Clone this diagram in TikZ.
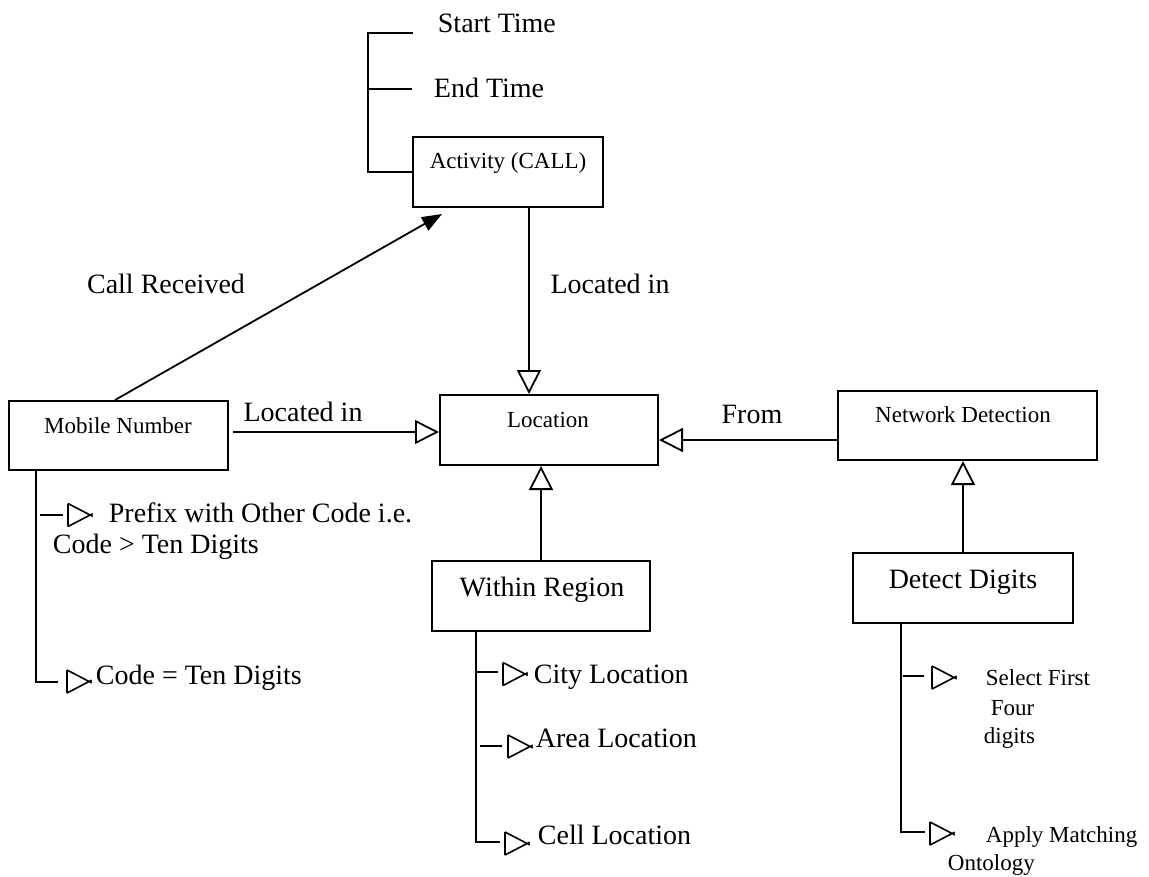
\documentclass[tikz,border=0pt]{standalone}
\usepackage{fontspec}
\setmainfont{Liberation Serif}
\usetikzlibrary{arrows.meta}
\newcommand\fbig{\fontsize{28}{32}\selectfont}
\newcommand\fsmall{\fontsize{23}{26}\selectfont}
\begin{document}
\begin{tikzpicture}[x=1pt,y=-1pt,line width=1.8pt,
  box/.style={draw,line width=2pt,rectangle,inner sep=0pt},
  bigtext/.style={inner sep=0pt,font=\fbig},
  smalltext/.style={inner sep=0pt,font=\fsmall},
  oarrow/.style={-{Triangle[open,length=24pt,width=24pt,line width=1.8pt]}},
  farrow/.style={-{Triangle[length=20pt,width=15pt]}},
  ltri/.pic={\draw[line width=1.6pt] (0,-11.5)--(0,11.5) (0,-11.5)--(24.7,1.35) (0,11.5)--(24.7,-1.35);}
]
\useasboundingbox (0,0) rectangle (1149,876);

% boxes
\node[box,minimum width=190,minimum height=70] (act) at (508,172) {};
\node[smalltext] (actt) at (508,163) {Activity (CALL)};
\node[box,minimum width=218,minimum height=70] (loc) at (549,430) {};
\node[smalltext] (loct) at (548,420) {Location};
\node[box,minimum width=219,minimum height=69] (mob) at (118.5,435.5) {};
\node[smalltext] (mobt) at (118,426) {Mobile Number};
\node[box,minimum width=259,minimum height=69] (net) at (967.5,425.5) {};
\node[smalltext] (nett) at (963,415) {Network Detection};
\node[box,minimum width=218,minimum height=70] (wr) at (541,596) {};
\node[bigtext] (wrt) at (542,590) {Within Region};
\node[box,minimum width=220,minimum height=70] (dd) at (963,588) {};
\node[bigtext] (ddt) at (963,582) {Detect Digits};

% top bracket
\node[bigtext,anchor=west] (st) at (437,23) {Start Time};
\node[bigtext,anchor=west] (et) at (433,88) {End Time};
\coordinate (bktop) at (368,33);
\coordinate (bkst) at (413,33);
\coordinate (bkmid) at (368,89);
\coordinate (bket) at (412,89);
\draw (act.west) -| (bktop) -- (bkst);
\draw (bkmid) -- (bket);

% main connectors
\draw[oarrow] ([xshift=21pt]act.south) -- ([xshift=-20pt]loc.north);
\node[bigtext] (lbl1) at (610,284) {Located in};
\draw[oarrow] (wr.north) -- ([xshift=-8pt]loc.south);
\draw[oarrow] (dd.north) -- ([xshift=-4.5pt]net.south);
\draw[oarrow] ([xshift=4pt,yshift=3.5pt]mob.east) -- ([yshift=-2pt]loc.west);
\node[bigtext] (lbl2) at (303,412) {Located in};
\draw[oarrow] ([yshift=-14.5pt]net.west) -- ([yshift=-10pt]loc.east);
\node[bigtext] (lbl3) at (752,414) {From};
\draw[farrow] ([xshift=-3.5pt]mob.north) -- ([xshift=-66pt,yshift=-6pt]act.south);
\node[bigtext] (lbl4) at (166,284) {Call Received};

% mobile number branch
\coordinate (mb1) at (36,682);
\coordinate (mb1e) at (58,682);
\draw ([xshift=-82.5pt]mob.south) -- (mb1) -- (mb1e);
\draw (40,515) -- (63,515);
\pic at (68,515) {ltri};
\node[bigtext,anchor=west] (pre1) at (108,513) {Prefix with Other Code i.e.};
\node[bigtext,anchor=west] (pre2) at (52,547) {Code > Ten Digits};
\pic at (67,681.5) {ltri};
\node[bigtext,anchor=west] (ceq) at (95,678) {Code = Ten Digits};

% within region branch
\coordinate (wb1) at (476,842);
\coordinate (wb1e) at (500,842);
\draw ([xshift=-65pt]wr.south) -- (wb1) -- (wb1e);
\draw (475,672) -- (498,672);
\pic at (503,674) {ltri};
\node[bigtext,anchor=west] (city) at (533,677) {City Location};
\draw (480,746) -- (502,746);
\pic at (508,746.5) {ltri};
\node[bigtext,anchor=west] (area) at (535,738) {Area Location};
\pic at (505,843.5) {ltri};
\node[bigtext,anchor=west] (cell) at (537,835) {Cell Location};

% detect digits branch
\coordinate (db1) at (901,832);
\coordinate (db1e) at (925,832);
\draw ([xshift=-62pt]dd.south) -- (db1) -- (db1e);
\draw (903,676) -- (924,676);
\pic at (932,677.5) {ltri};
\node[smalltext,anchor=west] (sel1) at (985,678) {Select First};
\node[smalltext,anchor=west] (sel2) at (990,708) {Four};
\node[smalltext,anchor=west] (sel3) at (983,738) {digits};
\pic at (930,833.5) {ltri};
\node[smalltext,anchor=west] (app1) at (985,837) {Apply Matching};
\node[smalltext,anchor=west] (app2) at (947,865) {Ontology};
\end{tikzpicture}
\end{document}
